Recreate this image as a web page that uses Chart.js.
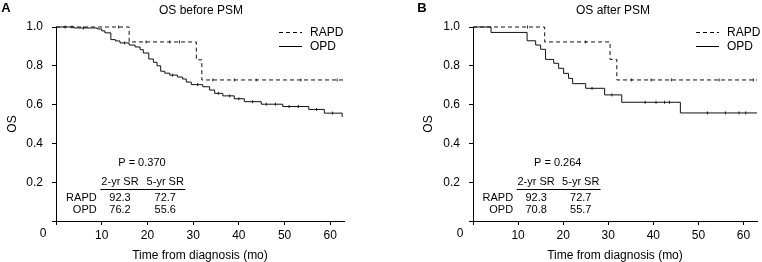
<!DOCTYPE html>
<html>
<head>
<meta charset="utf-8">
<script src="https://cdn.jsdelivr.net/npm/chart.js@4.4.1/dist/chart.umd.min.js"></script>
<style>
html,body{margin:0;padding:0;background:#fff;overflow:hidden;}
#wrap{position:relative;width:762px;height:262px;}
canvas{position:absolute;top:0;}
</style>
</head>
<body>
<div id="wrap">
<canvas id="cA" width="381" height="262" style="left:0px"></canvas>
<canvas id="cB" width="381" height="262" style="left:381px"></canvas>
</div>
<script>
// ---------------- DATA ----------------
const seriesNames = ['RAPD', 'OPD'];
const panelLetters = ['A', 'B'];
const panelTitles = ['OS before PSM', 'OS after PSM'];
const pValues = ['P = 0.370', 'P = 0.264'];
const tableHeader = ['2-yr SR', '5-yr SR'];
const srA = [[92.3, 72.7], [76.2, 55.6]];
const srB = [[92.3, 72.7], [70.8, 55.7]];
const xTickValues = [0, 10, 20, 30, 40, 50, 60];
const yTickValues = [0, 0.2, 0.4, 0.6, 0.8, 1.0];

// Panel A (before PSM)
const aRapdTime = [0, 16.0, 30.7, 31.9, 63];
const aRapdSurv = [1, 0.923, 0.831, 0.727, 0.727];
const aOpdTime = [0, 4, 9, 10, 10.7, 12, 13, 14, 16, 17.3, 18.4, 19.1, 20.3, 21.3, 22.1, 22.9, 23.8, 24.9, 26.6, 27.7, 28.5, 29.6, 32.1, 33.6, 34.7, 36.5, 39, 41.2, 44.9, 49.6, 55.3, 58.7, 62.6];
const aOpdSurv = [1, 0.995, 0.99, 0.98, 0.97, 0.935, 0.928, 0.918, 0.907, 0.897, 0.883, 0.866, 0.835, 0.818, 0.80, 0.772, 0.762, 0.752, 0.742, 0.732, 0.716, 0.703, 0.692, 0.675, 0.658, 0.645, 0.63, 0.615, 0.602, 0.59, 0.575, 0.556, 0.536];
const aRapdCensor = [3.5, 13.7, 19.7, 24.9, 27, 34.3, 39, 43.8, 53.6, 61.5];
const aOpdCensor = [2, 6, 15, 25.5, 31, 35.5, 38, 40, 43, 46, 48, 51, 53, 57, 60.5];

// Panel B (after PSM)
const bRapdTime = [0, 15.9, 30.4, 31.9, 63];
const bRapdSurv = [1, 0.923, 0.833, 0.727, 0.727];
const bOpdTime = [0, 4.0, 12.0, 13.9, 15.0, 16.1, 17.9, 19.0, 20.1, 21.2, 22.1, 25.0, 29.2, 33.0, 46.0, 63];
const bOpdSurv = [1, 0.972, 0.929, 0.907, 0.885, 0.833, 0.813, 0.787, 0.761, 0.735, 0.708, 0.684, 0.65, 0.612, 0.557, 0.557];
const bRapdCensor = [12.1, 25, 35.2, 39.5, 44, 54.6, 62.2];
const bOpdCensor = [26.4, 30.8, 38.2, 40.6, 42.5, 43.6, 52, 56, 59, 60.5];

// ---------------- HELPERS ----------------
const FONT = '"Liberation Sans", Arial, Helvetica, sans-serif';
const pts = (t, s) => t.map((v, i) => ({x: v, y: s[i]}));
function survAt(times, surv, t) {
  let v = surv[0];
  for (let i = 0; i < times.length; i++) { if (times[i] <= t) v = surv[i]; }
  return v;
}
const censorPts = (c, times, surv) => c.map(t => ({x: t, y: survAt(times, surv, t)}));

// annotation placement (data units)
const annot = {p: [18.8, 0.30], header: 0.201, rows: [0.119, 0.057], cols: [14.0, 23.9], rowLabelX: 8.9, rule: [9.7, 28.3, 0.165]};

const decoPlugin = {
  id: 'deco',
  afterDraw(chart, args, o) {
    const ctx = chart.ctx, xs = chart.scales.x, ys = chart.scales.y, ca = chart.chartArea;
    ctx.save();
    ctx.fillStyle = '#000'; ctx.strokeStyle = '#000';
    ctx.textBaseline = 'middle';
    // panel letter
    ctx.font = 'bold 13px ' + FONT; ctx.textAlign = 'center';
    ctx.fillText(o.letter, o.letterX, 8);
    // title
    ctx.font = '12px ' + FONT;
    ctx.fillText(o.title, o.titleX, 11);
    // corner 0
    ctx.fillText('0', ca.left - 13, ca.bottom + 13);
    // legend
    ctx.lineWidth = 1;
    const ly = [32.5, 46.5];
    seriesNames.forEach((n, i) => {
      ctx.setLineDash(i === 0 ? [4, 3] : []);
      ctx.beginPath(); ctx.moveTo(o.legX, ly[i]); ctx.lineTo(o.legX + 23, ly[i]); ctx.stroke();
      ctx.setLineDash([]);
      ctx.textAlign = 'left';
      ctx.fillText(n, o.legX + 31, ly[i]);
    });
    // table
    ctx.font = '11px ' + FONT;
    ctx.textAlign = 'center';
    ctx.fillText(o.p, xs.getPixelForValue(annot.p[0]), ys.getPixelForValue(annot.p[1]));
    tableHeader.forEach((h, j) => ctx.fillText(h, xs.getPixelForValue(annot.cols[j]), ys.getPixelForValue(annot.header)));
    const ry = Math.round(ys.getPixelForValue(annot.rule[2])) + 0.5;
    ctx.beginPath(); ctx.moveTo(xs.getPixelForValue(annot.rule[0]), ry); ctx.lineTo(xs.getPixelForValue(annot.rule[1]), ry); ctx.stroke();
    seriesNames.forEach((n, i) => {
      const y = ys.getPixelForValue(annot.rows[i]);
      ctx.textAlign = 'right';
      ctx.fillText(n, xs.getPixelForValue(annot.rowLabelX), y);
      ctx.textAlign = 'center';
      o.sr[i].forEach((v, j) => ctx.fillText(v.toFixed(1), xs.getPixelForValue(annot.cols[j]), y));
    });
    ctx.restore();
  }
};

function makeChart(id, cfg) {
  const lineDs = (label, t, s, dash) => ({
    label, data: pts(t, s), stepped: true, borderColor: '#111', borderWidth: 1,
    borderDash: dash, pointRadius: 0, fill: false, clip: 6, showLine: true
  });
  const cenDs = (c, t, s) => ({
    data: censorPts(c, t, s), showLine: false, pointStyle: 'line', rotation: 90,
    pointRadius: 1.5, borderColor: '#222', borderWidth: 1, clip: 6
  });
  return new Chart(document.getElementById(id), {
    type: 'line',
    data: {
      datasets: [
        lineDs(seriesNames[0], cfg.rT, cfg.rS, [4, 3]),
        lineDs(seriesNames[1], cfg.oT, cfg.oS, []),
        cenDs(cfg.rC, cfg.rT, cfg.rS),
        cenDs(cfg.oC, cfg.oT, cfg.oS)
      ]
    },
    options: {
      responsive: false, animation: false, devicePixelRatio: 1,
      events: [],
      layout: {padding: {top: 27, right: cfg.padRight, left: 0, bottom: 0}},
      plugins: {
        legend: {display: false}, title: {display: false}, tooltip: {enabled: false},
        deco: {letter: cfg.letter, letterX: cfg.letterX, title: cfg.title, titleX: cfg.titleX, legX: cfg.legX, p: cfg.p, sr: cfg.sr}
      },
      scales: {
        x: {
          type: 'linear', min: 0, max: 63,
          afterBuildTicks: s => { s.ticks = xTickValues.map(v => ({value: v})); },
          afterFit: s => { s.height = 41; },
          ticks: {includeBounds: false, padding: 3, color: '#000', font: {family: FONT, size: 12},
            callback: v => v === 0 ? '' : String(v), maxRotation: 0, autoSkip: false},
          grid: {display: true, drawOnChartArea: false, drawTicks: true, tickLength: 4, color: '#000'},
          border: {display: true, color: '#000', width: 1},
          title: {display: true, text: 'Time from diagnosis (mo)', color: '#000',
            font: {family: FONT, size: 12, lineHeight: 1}, padding: {top: 0, bottom: 0}}
        },
        y: {
          type: 'linear', min: 0, max: 1,
          afterBuildTicks: s => { s.ticks = yTickValues.map(v => ({value: v})); },
          afterFit: s => { s.width = cfg.yWidth; },
          ticks: {includeBounds: false, padding: 9, color: '#000', font: {family: FONT, size: 12},
            callback: v => v === 0 ? '' : v.toFixed(1), autoSkip: false},
          grid: {display: true, drawOnChartArea: false, drawTicks: true, tickLength: 4, color: '#000'},
          border: {display: true, color: '#000', width: 1},
          title: {display: true, text: 'OS', color: '#000',
            font: {family: FONT, size: 12, lineHeight: 1.2}, padding: {top: cfg.yTitlePad, bottom: 0}}
        }
      }
    },
    plugins: [decoPlugin]
  });
}

makeChart('cA', {
  rT: aRapdTime, rS: aRapdSurv, oT: aOpdTime, oS: aOpdSurv, rC: aRapdCensor, oC: aOpdCensor,
  yWidth: 56, padRight: 37, yTitlePad: 5.8, letter: panelLetters[0], letterX: 6, title: panelTitles[0], titleX: 201,
  legX: 279, p: pValues[0], sr: srA
});
makeChart('cB', {
  rT: bRapdTime, rS: bRapdSurv, oT: bOpdTime, oS: bOpdSurv, rC: bRapdCensor, oC: bOpdCensor,
  yWidth: 92, padRight: 1, yTitlePad: 40.8, letter: panelLetters[1], letterX: 41, title: panelTitles[1], titleX: 232,
  legX: 315, p: pValues[1], sr: srB
});
</script>
</body>
</html>
